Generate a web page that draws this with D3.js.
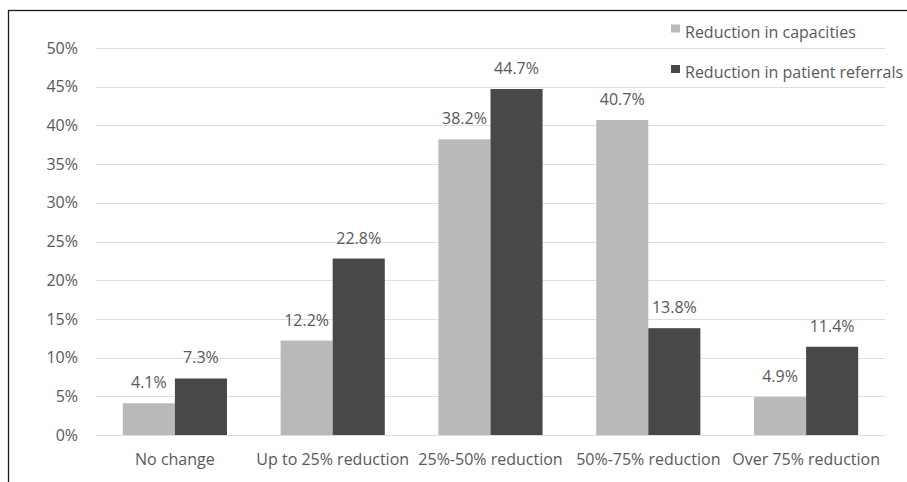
<!DOCTYPE html>
<html>
<head>
<meta charset="utf-8">
<script src="https://cdn.jsdelivr.net/npm/d3@7/dist/d3.min.js"></script>
<style>
  html, body { margin: 0; padding: 0; background: #fff; }
  svg { display: block; font-family: "Open Sans", "Noto Sans", sans-serif; }
</style>
</head>
<body>
<svg id="chart" width="907" height="482"></svg>
<script>
// Survey categories and the share of respondents for each measure
const categories = ["No change", "Up to 25% reduction", "25%-50% reduction", "50%-75% reduction", "Over 75% reduction"];
const seriesNames = ["Reduction in capacities", "Reduction in patient referrals"];
const capacities = [4.1, 12.2, 38.2, 40.7, 4.9];
const referrals = [7.3, 22.8, 44.7, 13.8, 11.4];
const yTicks = [0, 5, 10, 15, 20, 25, 30, 35, 40, 45, 50];
const seriesColors = ["#bab9b7", "#4a4846"];

const svg = d3.select("#chart");
const W = 907, H = 482;
const plot = { left: 96, right: 885, top: 48, bottom: 435 };
const textColor = "#595959";
const fontSize = 16;

// outer frame
svg.append("rect")
  .attr("x", 8.5).attr("y", 10.5)
  .attr("width", W + 10).attr("height", H + 10)
  .attr("fill", "none").attr("stroke", "#1a1a1a").attr("stroke-width", 1.3);

const x0 = d3.scaleBand().domain(categories).range([plot.left, plot.right]).paddingInner(0.34).paddingOuter(0.17);
const x1 = d3.scaleBand().domain(seriesNames).range([0, x0.bandwidth()]);
const y = d3.scaleLinear().domain([0, 50]).range([plot.bottom, plot.top]);

// gridlines
svg.append("g").selectAll("line").data(yTicks).join("line")
  .attr("x1", plot.left).attr("x2", plot.right)
  .attr("y1", d => Math.round(y(d)) + 0.5).attr("y2", d => Math.round(y(d)) + 0.5)
  .attr("stroke", "#dedede").attr("stroke-width", 1);

// y axis labels
const yAxis = d3.axisLeft(y).tickValues(yTicks).tickFormat(d => d + "%").tickSize(0).tickPadding(0);
const gy = svg.append("g").attr("transform", `translate(78,0)`).call(yAxis);
gy.select(".domain").remove();
gy.selectAll("text").attr("fill", textColor).attr("font-size", fontSize).attr("font-family", "'Open Sans', sans-serif");

// x axis labels
const xAxis = d3.axisBottom(x0).tickSize(0).tickPadding(0);
const gx = svg.append("g").attr("transform", `translate(0,453.5)`).call(xAxis);
gx.select(".domain").remove();
gx.selectAll("text").attr("fill", textColor).attr("font-size", fontSize).attr("font-family", "'Open Sans', sans-serif");

// bars with value labels
const rows = categories.map((c, i) => ({ cat: c, vals: [capacities[i], referrals[i]] }));
const groups = svg.append("g").selectAll("g").data(rows).join("g")
  .attr("transform", d => `translate(${x0(d.cat)},0)`);

groups.selectAll("rect").data(d => d.vals.map((v, j) => ({ v, s: seriesNames[j], j }))).join("rect")
  .attr("x", d => x1(d.s))
  .attr("width", x1.bandwidth())
  .attr("y", d => y(d.v))
  .attr("height", d => y(0) - y(d.v))
  .attr("fill", d => seriesColors[d.j]);

groups.selectAll("text").data(d => d.vals.map((v, j) => ({ v, s: seriesNames[j], j }))).join("text")
  .attr("x", d => x1(d.s) + x1.bandwidth() / 2)
  .attr("y", d => y(d.v) - 15)
  .attr("text-anchor", "middle")
  .attr("fill", textColor).attr("font-size", fontSize)
  .text(d => d.v.toFixed(1) + "%");

// legend
const legend = svg.append("g").selectAll("g").data(seriesNames).join("g")
  .attr("transform", (d, i) => `translate(671,${24.5 + i * 40.5})`);
legend.append("rect").attr("width", 9).attr("height", 8).attr("fill", (d, i) => seriesColors[i]);
legend.append("text").attr("x", 14).attr("y", 13)
  .attr("fill", textColor).attr("font-size", fontSize).text(d => d);
</script>
</body>
</html>
